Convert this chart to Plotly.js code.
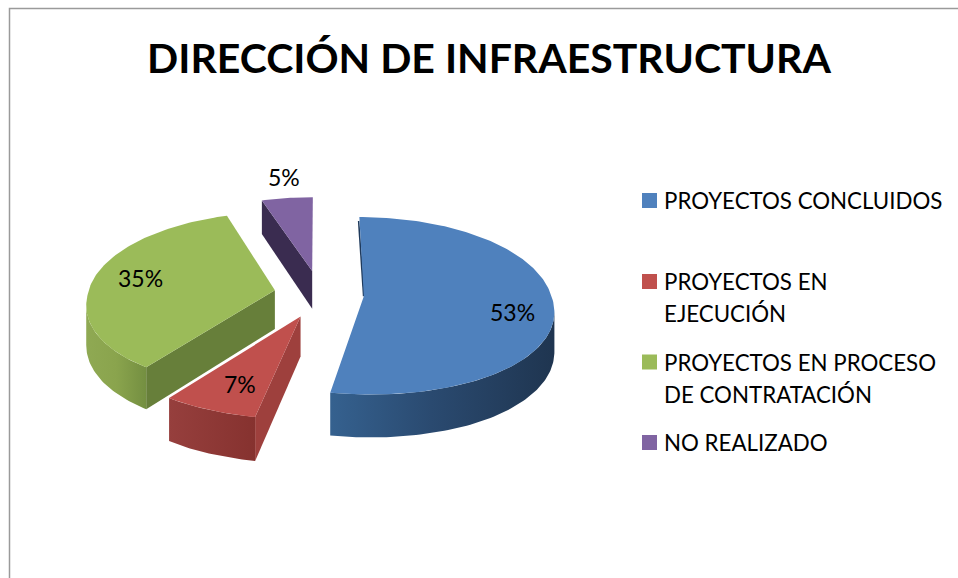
<!DOCTYPE html>
<html>
<head>
<meta charset="utf-8">
<script src="https://cdn.plot.ly/plotly-3.0.1.min.js"></script>
<style>html,body{margin:0;padding:0;background:#fff;overflow:hidden}#chart{width:958px;height:578px}</style>
</head>
<body>
<div id="chart"></div>
<script>
// Data
var categories = ['PROYECTOS CONCLUIDOS', 'PROYECTOS EN EJECUCIÓN', 'PROYECTOS EN PROCESO DE CONTRATACIÓN', 'NO REALIZADO'];
var values = [53, 7, 35, 5];
var titleText = 'DIRECCIÓN DE INFRAESTRUCTURA';

// Legend text as it wraps in the picture
var legendLines = [['PROYECTOS CONCLUIDOS'], ['PROYECTOS EN', 'EJECUCIÓN'], ['PROYECTOS EN PROCESO', 'DE CONTRATACIÓN'], ['NO REALIZADO']];

// Styles
var topColors = ['#4f81bd', '#c0504d', '#9bbb59', '#8064a2'];
var wallColors = ['#1f3a5c', '#9e403d', '#677f3a', '#3a2c50'];
var outerScales = [
  [[0, '#35618f'], [0.45, '#2a4a70'], [1, '#1f3550']],
  [[0, '#963f3d'], [1, '#86322f']],
  [[0, '#8fa953'], [0.5, '#8aa44d'], [1, '#748f41']],
  null
];

// Projection of the tilted, exploded pie (pixels through the axes' scale)
var CX = 319, CY = 294, RX = 187, RY = 89, EX = 0.24, EY = 0.27, DEPTH = 39;
var KX_BACK = 0.11, KX_FRONT = 0.14, KY_BACK = 0.13, KY_FRONT = 0.09;
var FONT = 'Lato, Carlito, sans-serif';
var FS = 22.3, PCT_FS = 23;

function project(wx, wy, dz) {
  var sx = 1 / (1 - (wy < 0 ? KX_BACK : KX_FRONT) * wy);
  var sy = 1 / (1 - (wy < 0 ? KY_BACK : KY_FRONT) * wy);
  return [CX + RX * wx * sx, CY + RY * wy * sy + (dz || 0) * sy];
}
function apexWorld(mid) {
  return [EX * Math.sin(mid), -EY * Math.cos(mid)];
}
function rim(a, t, dz) {
  return project(a[0] + Math.sin(t), a[1] - Math.cos(t), dz);
}
function arc(a, t0, t1, dz) {
  var n = Math.max(2, Math.ceil((t1 - t0) / 0.02)), pts = [];
  for (var i = 0; i <= n; i++) { pts.push(rim(a, t0 + (t1 - t0) * i / n, dz)); }
  return pts;
}
function poly(pts, color, scale) {
  var tr = {
    type: 'scatter', mode: 'lines', fill: 'toself', hoverinfo: 'skip', showlegend: false,
    x: pts.map(function (p) { return p[0]; }), y: pts.map(function (p) { return p[1]; }),
    line: { width: 0, color: color }, fillcolor: color
  };
  if (scale) { tr.fillgradient = { type: 'horizontal', colorscale: scale }; }
  return tr;
}
// Part of a slice's rim that faces the viewer: the part running leftwards on screen
function frontRange(a, t0, t1) {
  var lo = null, hi = null, n = 300;
  for (var i = 0; i < n; i++) {
    var u = t0 + (t1 - t0) * i / n, v = t0 + (t1 - t0) * (i + 1) / n;
    if (rim(a, v)[0] < rim(a, u)[0] && Math.cos((u + v) / 2) < 0.3) {
      if (lo === null) { lo = u; }
      hi = v;
    }
  }
  return lo === null ? null : [lo, hi];
}

var total = values.reduce(function (a, b) { return a + b; }, 0);
var slices = [], acc = 0;
values.forEach(function (v, i) {
  var t0 = acc / total * 2 * Math.PI; acc += v;
  var t1 = acc / total * 2 * Math.PI;
  slices.push({ i: i, t0: t0, t1: t1, a: apexWorld((t0 + t1) / 2) });
});

var traces = [];
// Back to front painting order
[3, 2, 0, 1].forEach(function (idx) {
  var s = slices[idx], a = s.a;
  var ap = project(a[0], a[1]), apLow = project(a[0], a[1], DEPTH);
  // start radial wall
  if (idx !== 0) {
    traces.push(poly([ap, rim(a, s.t0), rim(a, s.t0, DEPTH), apLow, ap], wallColors[idx]));
  } else {
    var c0 = rim(a, s.t0);
    traces.push(poly([[ap[0] - 1, ap[1]], [c0[0] - 1.5, c0[1] + 4], [c0[0], c0[1] + 4], [ap[0] + 1, ap[1]]], wallColors[0]));
  }
  // outer wall
  var fr = frontRange(a, s.t0, s.t1);
  if (fr && outerScales[idx]) {
    var upper = arc(a, fr[0], fr[1], 0), lower = arc(a, fr[0], fr[1], DEPTH).reverse();
    traces.push(poly(upper.concat(lower, [upper[0]]), wallColors[idx], outerScales[idx]));
  }
  // top face
  traces.push(poly([ap].concat(arc(a, s.t0, s.t1, 0), [ap]), topColors[idx]));
});

// Legend swatches
var legendX = [649.5, 649.5, 649.5, 649.5];
var legendY = [200.5, 281.5, 362, 442.5];
traces.push({
  type: 'scatter', mode: 'markers', x: legendX, y: legendY, hoverinfo: 'skip', showlegend: false,
  text: categories,
  marker: { symbol: 'square', size: 15, color: topColors, line: { width: 0 } }
});

// Percent labels
var labelX = [512.5, 240, 140.5, 284];
var labelY = [312, 384, 278, 177];
var annotations = values.map(function (v, i) {
  return { x: labelX[i], y: labelY[i], xref: 'x', yref: 'y', text: v + '%', showarrow: false,
    xanchor: 'center', yanchor: 'middle', font: { family: FONT, size: PCT_FS, color: '#000' } };
});
var lineStep = 32;
legendLines.forEach(function (lines, i) {
  lines.forEach(function (line, j) {
    annotations.push({ x: 661.5, y: legendY[i] + j * lineStep, xref: 'x', yref: 'y', text: line, showarrow: false,
      xanchor: 'left', yanchor: 'middle', font: { family: FONT, size: FS, color: '#000' } });
  });
});

var layout = {
  width: 958, height: 578, margin: { l: 0, r: 0, t: 0, b: 0 },
  paper_bgcolor: '#fff', plot_bgcolor: '#fff', showlegend: false,
  title: { text: titleText, x: 489 / 958, xanchor: 'center', xref: 'paper', y: 1 - 59 / 578, yref: 'paper', yanchor: 'middle',
    font: { family: FONT, size: 41, weight: 700, color: '#000' } },
  xaxis: { range: [0, 958], visible: false, fixedrange: true },
  yaxis: { range: [578, 0], visible: false, fixedrange: true },
  annotations: annotations,
  shapes: [{ type: 'path', xref: 'x', yref: 'y', path: 'M9.5,578 L9.5,8.5 L958,8.5', line: { color: '#9a9a9a', width: 1.5 } }]
};
Plotly.newPlot('chart', traces, layout, { displayModeBar: false, staticPlot: true });
</script>
</body>
</html>
